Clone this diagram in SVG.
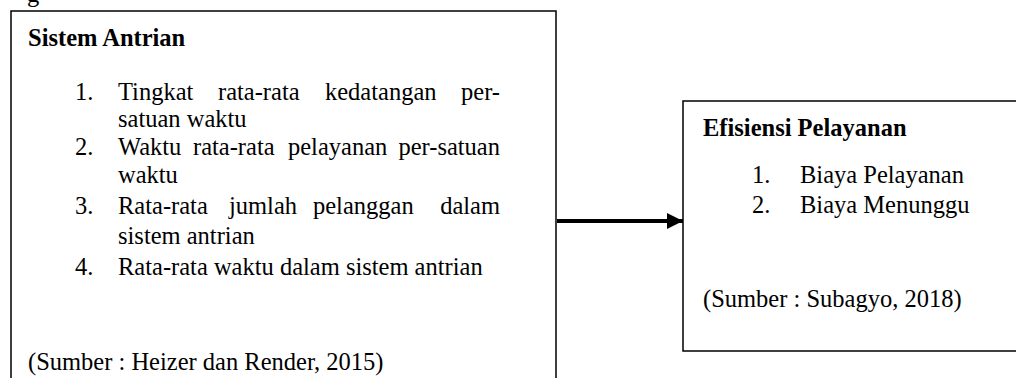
<svg xmlns="http://www.w3.org/2000/svg" width="1016" height="378" viewBox="0 0 1016 378">
<style>
.t{font-family:"Liberation Serif","Times New Roman",serif;font-size:24.5px;fill:#000}
.b{font-weight:bold}
.box{fill:#fff;stroke:#000;stroke-width:1.5}
</style>
<defs>
<marker id="ah" markerWidth="4" markerHeight="4" refX="4" refY="2" orient="auto" markerUnits="strokeWidth">
<path d="M0,0 L4,2 L0,4 Z" fill="#000"/>
</marker>
</defs>
<rect width="1016" height="378" fill="#fff"/>
<text class="t" x="27" y="2">g</text>
<g id="connectors">
<line x1="557" y1="221" x2="683" y2="221" stroke="#000" stroke-width="4" marker-end="url(#ah)"/>
</g>
<g id="sistem-antrian">
<rect class="box" x="11" y="11" width="545" height="400"/>
<text class="t b" x="28" y="46">Sistem Antrian</text>
<text class="t" x="75" y="100">1.</text>
<text class="t" y="100"><tspan x="118">Tingkat</tspan><tspan x="218">rata-rata</tspan><tspan x="325">kedatangan</tspan><tspan x="500" text-anchor="end">per-</tspan></text>
<text class="t" x="118" y="127">satuan waktu</text>
<text class="t" x="75" y="155">2.</text>
<text class="t" y="155"><tspan x="118">Waktu</tspan><tspan x="193">rata-rata</tspan><tspan x="288">pelayanan</tspan><tspan x="500" text-anchor="end">per-satuan</tspan></text>
<text class="t" x="118" y="183">waktu</text>
<text class="t" x="75" y="214">3.</text>
<text class="t" y="214"><tspan x="118">Rata-rata</tspan><tspan x="229">jumlah</tspan><tspan x="313">pelanggan</tspan><tspan x="500" text-anchor="end">dalam</tspan></text>
<text class="t" x="118" y="244">sistem antrian</text>
<text class="t" x="75" y="275">4.</text>
<text class="t" x="118" y="275">Rata-rata waktu dalam sistem antrian</text>
<text class="t" x="28" y="370">(Sumber : Heizer dan Render, 2015)</text>
</g>
<g id="efisiensi-pelayanan">
<rect class="box" x="683" y="101" width="360" height="250"/>
<text class="t b" x="703" y="136">Efisiensi Pelayanan</text>
<text class="t" x="752" y="183">1.</text>
<text class="t" x="800" y="183">Biaya Pelayanan</text>
<text class="t" x="752" y="213">2.</text>
<text class="t" x="800" y="213">Biaya Menunggu</text>
<text class="t" x="703" y="307">(Sumber : Subagyo, 2018)</text>
</g>
</svg>
